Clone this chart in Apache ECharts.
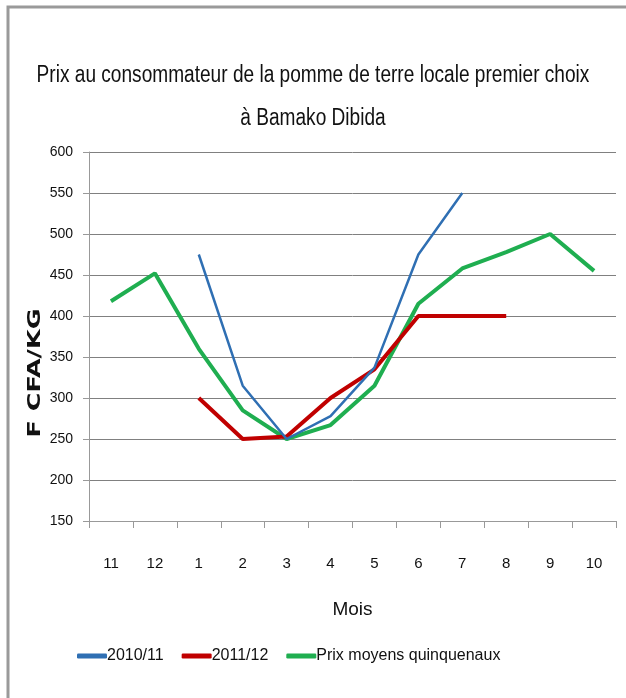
<!DOCTYPE html>
<html><head><meta charset="utf-8">
<script src="https://cdn.jsdelivr.net/npm/echarts@6/dist/echarts.min.js"></script>
<style>html,body{margin:0;padding:0;background:#fff}#c{width:626px;height:698px}</style>
</head><body><div id="c"></div>
<script>
const months = ['11','12','1','2','3','4','5','6','7','8','9','10'];
const s2010 = [null, null, 475, 315, 250, 278, 337, 475, 550, null, null, null];
const s2011 = [null, null, 300, 250, 253, 300, 335, 400, 400, 400, null, null];
const sAvg = [418, 452, 360, 285, 250, 267, 315, 415, 458, 478, 500, 455];
const yTicks = {min:150, max:600, step:50};
const titleLines = ['Prix au consommateur de la pomme de terre locale premier choix','à Bamako Dibida'];
const yName = 'F CFA/KG';
const FONT = '"Liberation Sans",Arial,sans-serif';
const chart = echarts.init(document.getElementById('c'), null, {renderer:'canvas'});
chart.setOption({
  animation:false,
  backgroundColor:'#fff',
  graphic:[
    {type:'rect',shape:{x:8,y:7,width:640,height:720},style:{fill:'none',stroke:'#9a9a9a',lineWidth:3},silent:true},
    {type:'text',x:313,y:76,scaleX:0.83,style:{text:titleLines[0],font:'23px '+FONT,fill:'#111',textAlign:'center',textVerticalAlign:'middle'}},
    {type:'text',x:313,y:119,scaleX:0.83,style:{text:titleLines[1],font:'23px '+FONT,fill:'#111',textAlign:'center',textVerticalAlign:'middle'}},
    {type:'text',x:36,y:373,rotation:Math.PI/2,scaleX:1.5,style:{text:yName,font:'bold 17px "DejaVu Sans",sans-serif',fill:'#111',textAlign:'center',textVerticalAlign:'middle'}}
  ],
  grid:{left:89,right:10,top:152,bottom:177},
  legend:{
    bottom:29,left:72,itemWidth:30,itemHeight:5,itemGap:18,icon:'roundRect',
    textStyle:{fontFamily:FONT,fontSize:16,color:'#111',padding:[0,0,0,-5]},
    data:['2010/11','2011/12','Prix moyens quinquenaux']
  },
  xAxis:{
    type:'category',data:months,boundaryGap:true,
    name:'Mois',nameLocation:'middle',nameGap:79,
    nameTextStyle:{fontFamily:FONT,fontSize:19,color:'#111'},
    axisLine:{lineStyle:{color:'#999',width:1}},
    axisTick:{show:true,length:7,lineStyle:{color:'#999'}},
    axisLabel:{fontFamily:FONT,fontSize:15,color:'#111',margin:35}
  },
  yAxis:{
    type:'value',min:yTicks.min,max:yTicks.max,interval:yTicks.step,
    axisLine:{show:true,lineStyle:{color:'#999'}},
    axisTick:{show:true,length:6,lineStyle:{color:'#999'}},
    axisLabel:{fontFamily:FONT,fontSize:14,color:'#111',margin:16},
    splitLine:{lineStyle:{color:'#808080',width:1}}
  },
  series:[
    {name:'2010/11',type:'line',data:s2010,showSymbol:false,symbol:'none',
     lineStyle:{color:'#2f6fb3',width:2.5},itemStyle:{color:'#2f6fb3'},z:4},
    {name:'2011/12',type:'line',data:s2011,showSymbol:false,symbol:'none',
     lineStyle:{color:'#c00000',width:4},itemStyle:{color:'#c00000'},z:3},
    {name:'Prix moyens quinquenaux',type:'line',data:sAvg,showSymbol:false,symbol:'none',
     lineStyle:{color:'#1fae50',width:4},itemStyle:{color:'#1fae50'},z:2}
  ]
});
</script></body></html>
